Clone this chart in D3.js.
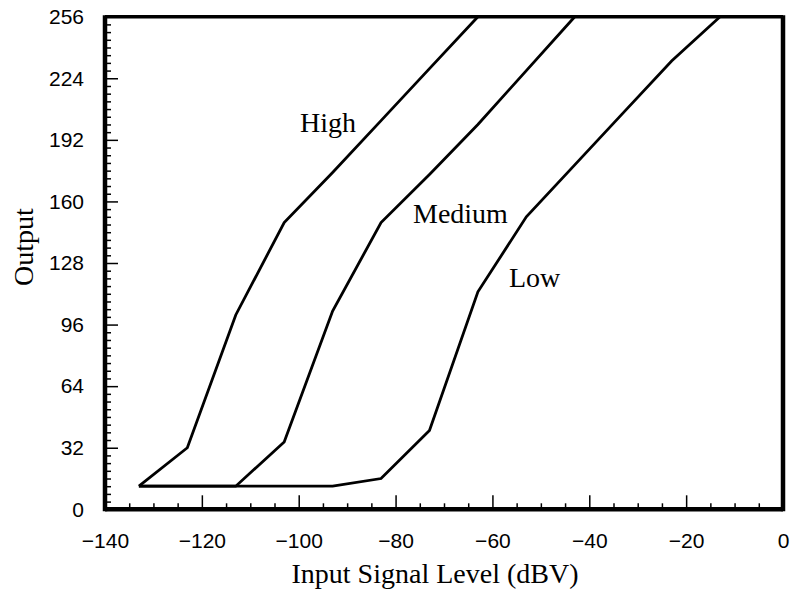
<!DOCTYPE html>
<html>
<head>
<meta charset="utf-8">
<script src="https://cdn.jsdelivr.net/npm/d3@7"></script>
<style>
  body { margin: 0; background: #fff; }
  .tick text { font-family: "Liberation Sans", Arial, sans-serif; font-size: 21px; fill: #000; }
  .lbl { font-family: "Liberation Serif", "Times New Roman", serif; font-size: 28px; fill: #000; }
</style>
</head>
<body>
<div class="svgtarget"></div>
<script>
// input levels (dBV) where each curve was measured
var inputLevels = [-133, -123, -113, -103, -93, -83, -73, -63, -53, -43, -33, -23, -13];
var highOut   = [12, 32, 101, 149, 175, 202, 229, 256];
var mediumOut = [12, 12, 12, 35, 103, 149, 174, 200, 228, 256];
var lowOut    = [12, 12, 12, 12, 12, 16, 41, 113, 152, 179, 206, 233, 256];
var curveNames = ["High", "Medium", "Low"];

var xMajor = [-140, -120, -100, -80, -60, -40, -20, 0];
var yMajor = [0, 32, 64, 96, 128, 160, 192, 224, 256];

var W = 792, H = 594;
var pLeft = 105, pRight = 783, pTop = 16.7, pBottom = 509.3;

var svg = d3.select(".svgtarget").append("svg")
            .attr("width", W)
            .attr("height", H);

var x = d3.scaleLinear().domain([-140, 0]).range([pLeft, pRight]);
var y = d3.scaleLinear().domain([0, 256]).range([pBottom, pTop]);

var xMinor = d3.range(-135, 0, 5).filter(d => d % 20 != 0);
var yMinor = d3.range(4, 256, 4).filter(d => d % 32 != 0);

// minor ticks
svg.append("g").attr("transform", "translate(0," + pBottom + ")")
   .call(d3.axisBottom(x).tickValues(xMinor).tickSize(-6).tickFormat(""))
   .call(g => g.select(".domain").remove());
svg.append("g").attr("transform", "translate(" + pLeft + ",0)")
   .call(d3.axisLeft(y).tickValues(yMinor).tickSize(-6).tickFormat(""))
   .call(g => g.select(".domain").remove());

// major ticks with labels
svg.append("g").attr("transform", "translate(0," + pBottom + ")")
   .call(d3.axisBottom(x).tickValues(xMajor).tickSize(-14).tickPadding(24))
   .call(g => g.select(".domain").remove());
svg.append("g").attr("transform", "translate(" + pLeft + ",0)")
   .call(d3.axisLeft(y).tickValues(yMajor).tickSize(-13).tickPadding(21))
   .call(g => g.select(".domain").remove());

svg.selectAll(".tick line").attr("stroke", "#000").attr("stroke-width", 1.5);

// frame
svg.append("line").attr("x1", pLeft).attr("x2", pRight).attr("y1", pTop).attr("y2", pTop)
   .attr("stroke", "#000").attr("stroke-width", 3.5);
svg.append("line").attr("x1", pLeft).attr("x2", pRight).attr("y1", pBottom).attr("y2", pBottom)
   .attr("stroke", "#000").attr("stroke-width", 4.5);
svg.append("line").attr("x1", pLeft).attr("x2", pLeft).attr("y1", pTop - 1.5).attr("y2", pBottom + 2)
   .attr("stroke", "#000").attr("stroke-width", 4.5);
svg.append("line").attr("x1", pRight).attr("x2", pRight).attr("y1", pTop - 1.5).attr("y2", pBottom + 2)
   .attr("stroke", "#000").attr("stroke-width", 4.5);

// curves
var series = [highOut, mediumOut, lowOut];
var line = d3.line()
             .x(d => x(d[0]))
             .y(d => y(d[1]));

svg.selectAll(".curve").data(series).enter().append("path")
   .attr("class", "curve")
   .attr("fill", "none")
   .attr("stroke", "#000")
   .attr("stroke-width", 2.8)
   .attr("d", function(s) {
       return line(s.map((v, i) => [inputLevels[i], v]));
   });

// curve labels
var labelPos = [[300, 132], [413, 223], [509, 287]];
svg.selectAll(".clbl").data(curveNames).enter().append("text")
   .attr("class", "lbl")
   .attr("x", (d, i) => labelPos[i][0])
   .attr("y", (d, i) => labelPos[i][1])
   .text(d => d);

// axis titles
svg.append("text").attr("class", "lbl")
   .attr("x", 435).attr("y", 583)
   .attr("text-anchor", "middle")
   .text("Input Signal Level (dBV)");
svg.append("text").attr("class", "lbl")
   .attr("transform", "translate(33,247) rotate(-90)")
   .attr("text-anchor", "middle")
   .text("Output");
</script>
</body>
</html>
